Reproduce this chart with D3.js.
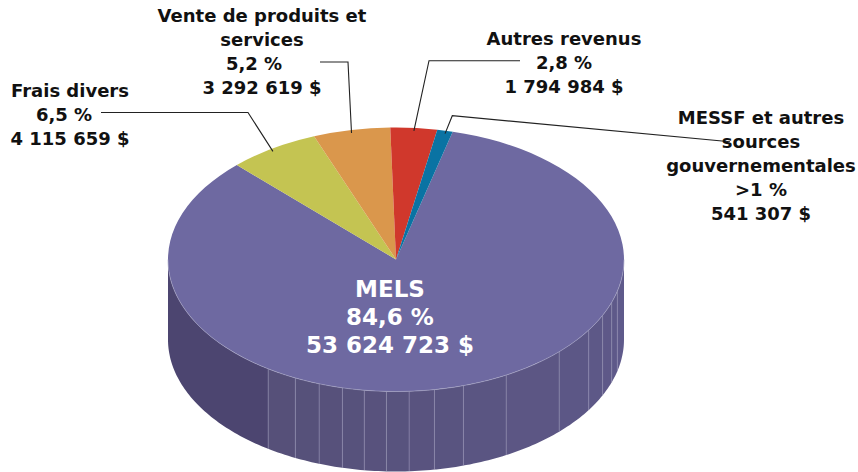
<!DOCTYPE html>
<html>
<head>
<meta charset="utf-8">
<script src="https://d3js.org/d3.v7.min.js"></script>
<style>
html, body { margin: 0; background: #fff; }
svg { display: block; }
text { font-family: "DejaVu Sans", sans-serif; font-weight: 700; text-anchor: middle; }
</style>
</head>
<body>
<svg width="858" height="472"></svg>
<script>
var categories = ["MELS", "Frais divers", "Vente de produits et services", "Autres revenus", "MESSF et autres sources gouvernementales"];
var percentLabels = ["84,6 %", "6,5 %", "5,2 %", "2,8 %", ">1 %"];
var amountLabels = ["53 624 723 $", "4 115 659 $", "3 292 619 $", "1 794 984 $", "541 307 $"];
// share of the circle as measured on the drawn slices (the picture is not quite true to its labels)
var drawnShares = [83.7, 6.45, 5.45, 3.3, 1.1];
var colors = ["#6e69a1", "#c4c452", "#da974c", "#d0382c", "#0a73a3"];
// rim facets of the side wall, degrees clockwise from the top of the pie
var facetEdges = [90, 103.9, 108.9, 115, 122.3, 134.3, 151.1, 162.8, 170.3, 176.7, 182.4, 188, 193.6, 199.7, 206.2, 214.1, 270];

var svg = d3.select("svg");
var cx = 396, cy = 259.5, rx = 228, ry = 132, depth = 80;
var rad = Math.PI / 180;

var rimX = function(a) { return cx + rx * Math.sin(a); };
var rimY = function(a) { return cy - ry * Math.cos(a); };

// side wall
var wallColor = d3.scaleLinear().domain([90, 206, 214.1]).range(["#5f5a8b", "#565079", "#554f7d"]);
var wall = d3.area()
  .x(function(d) { return rimX(d * rad); })
  .y0(function(d) { return rimY(d * rad); })
  .y1(function(d) { return rimY(d * rad) + depth; });

facetEdges.slice(1).forEach(function(end, i) {
  var start = facetEdges[i];
  svg.append("path")
    .attr("d", wall(d3.range(start, end, 1).concat([end])))
    .attr("fill", end === 270 ? "#4c4570" : wallColor(start));
});

svg.append("g").selectAll("line")
  .data(facetEdges.slice(1, -1))
  .enter().append("line")
    .attr("x1", function(d) { return rimX(d * rad); })
    .attr("x2", function(d) { return rimX(d * rad); })
    .attr("y1", function(d) { return rimY(d * rad); })
    .attr("y2", function(d) { return rimY(d * rad) + depth; })
    .attr("stroke", "#8f8bb0")
    .attr("stroke-width", 0.6);

// top of the pie
var pie = d3.pie().sort(null)
  .startAngle(14.4 * rad)
  .endAngle((360 + 14.4) * rad);
var slices = pie(drawnShares);
var arc = d3.arc().innerRadius(0).outerRadius(rx);

svg.append("g")
  .attr("transform", "translate(" + cx + "," + cy + ") scale(1," + (ry / rx) + ")")
  .selectAll("path")
  .data(slices)
  .enter().append("path")
    .attr("d", arc)
    .attr("fill", function(d, i) { return colors[i]; });

// light edge along the front of the rim
svg.append("path")
  .attr("d", d3.line()
    .x(function(d) { return rimX(d * rad); })
    .y(function(d) { return rimY(d * rad); })(d3.range(90, 271, 1)))
  .attr("fill", "none")
  .attr("stroke", "#a5a2c4")
  .attr("stroke-width", 0.6);

// leader lines: start next to the label, elbow, then the middle of the slice on the rim
var leaders = [null, [[101, 112.5], [248, 112.5]], [[320, 62], [348, 62]], [[520, 60.7], [429, 60.7]], [[730, 141.7], [452.3, 115.7]]];
var line = d3.line();
slices.forEach(function(s, i) {
  if (!leaders[i]) return;
  var mid = (s.startAngle + s.endAngle) / 2;
  svg.append("path")
    .attr("d", line(leaders[i].concat([[rimX(mid), rimY(mid) + 3]])))
    .attr("fill", "none")
    .attr("stroke", "#222")
    .attr("stroke-width", 1.1);
});

// labels
var labelLines = [
  [categories[0], percentLabels[0], amountLabels[0]],
  [categories[1], percentLabels[1], amountLabels[1]],
  ["Vente de produits et", "services", percentLabels[2], amountLabels[2]],
  [categories[3], percentLabels[3], amountLabels[3]],
  ["MESSF et autres", "sources", "gouvernementales", percentLabels[4], amountLabels[4]]
];
// x, first baseline, line height, font size, colour, nudge of the percent line
var labelPos = [[390, 297, 28, 23, "#fff", 0], [70, 97, 24, 18, "#111", -6], [262, 22, 24, 18, "#111", -8], [564, 45, 24, 18, "#111", 0], [761, 124, 24, 18, "#111", 0]];

labelLines.forEach(function(lines, i) {
  var p = labelPos[i];
  svg.append("g").selectAll("text")
    .data(lines)
    .enter().append("text")
      .attr("x", function(d) { return d === percentLabels[i] ? p[0] + p[5] : p[0]; })
      .attr("y", function(d, j) { return p[1] + j * p[2]; })
      .attr("font-size", p[3])
      .attr("fill", p[4])
      .text(function(d) { return d; });
});
</script>
</body>
</html>
